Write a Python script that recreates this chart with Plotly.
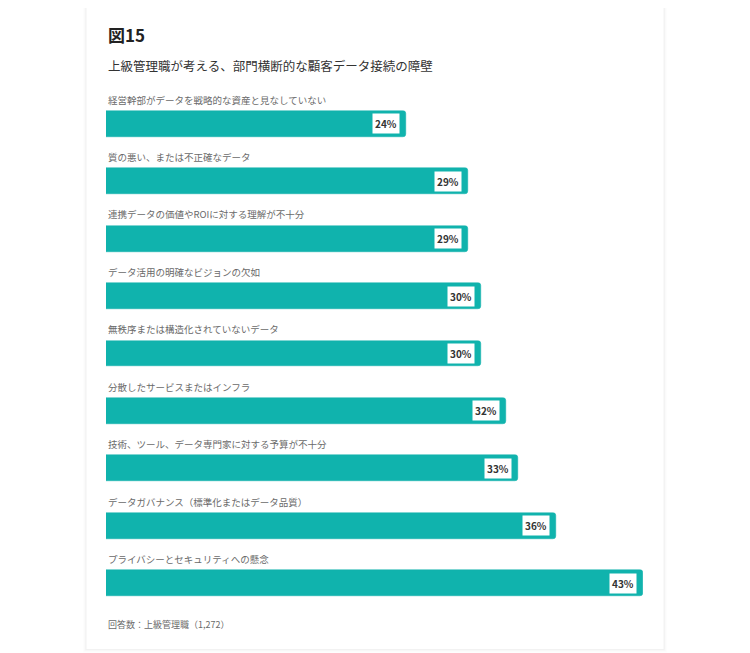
import plotly.graph_objects as go

# 図15 data
categories = [
    '経営幹部がデータを戦略的な資産と見なしていない',
    '質の悪い、または不正確なデータ',
    '連携データの価値やROIに対する理解が不十分',
    'データ活用の明確なビジョンの欠如',
    '無秩序または構造化されていないデータ',
    '分散したサービスまたはインフラ',
    '技術、ツール、データ専門家に対する予算が不十分',
    'データガバナンス（標準化またはデータ品質）',
    'プライバシーとセキュリティへの懸念',
]
values = [24, 29, 29, 30, 30, 32, 33, 36, 43]
value_labels = ['24%', '29%', '29%', '30%', '30%', '32%', '33%', '36%', '43%']

FONT = 'Noto Sans CJK JP'
BAR_COLOR = '#10b3ad'

# page body has an 8px margin, so the figure sits 8px in from the window edge
OFF = 8
W, H = 750, 653
L, T = 106 - OFF, 95 - OFF
pw, ph = 537, 517.5
R, B = W - L - pw, H - T - ph

pos = list(range(len(categories)))

fig = go.Figure()
fig.add_trace(go.Bar(
    x=values, y=pos, orientation='h',
    marker=dict(color=BAR_COLOR, line=dict(width=0.5, color=BAR_COLOR), cornerradius=3),
    width=0.45, hoverinfo='skip',
))

annotations = []
for i, (cat, v, lab) in enumerate(zip(categories, values, value_labels)):
    # category label above each bar
    annotations.append(dict(
        x=0, y=i - 0.42, xref='x', yref='y', text=cat, showarrow=False,
        xanchor='left', yanchor='middle',
        font=dict(family=FONT, size=9.5, color='#6a6a6a'),
    ))
    # value badge at the bar end
    annotations.append(dict(
        x=v, y=i, xref='x', yref='y', text='<b>' + lab + '</b>', showarrow=False,
        xanchor='right', yanchor='middle', xshift=-6,
        bgcolor='white', borderpad=2,
        font=dict(family=FONT, size=10, color='#333333'),
    ))

fig.update_layout(
    width=W, height=H,
    margin=dict(l=L, r=R, t=T, b=B),
    paper_bgcolor='white', plot_bgcolor='white',
    showlegend=False,
    bargap=0,
    xaxis=dict(range=[0, 43], visible=False, fixedrange=True),
    yaxis=dict(range=[8.5, -0.5], visible=False, fixedrange=True),
    annotations=annotations,
)


def px_x(p):
    return (p - OFF - L) / pw


def px_y(p):
    return 1 - (p - OFF - T) / ph


# card with a faint shadow
for k, op in [(3, 0.008), (2, 0.012), (1, 0.018)]:
    fig.add_shape(type='rect', xref='paper', yref='paper', layer='below',
                  x0=px_x(86 - k), x1=px_x(664 + k), y0=px_y(650 + k), y1=px_y(3 - k + 1),
                  line=dict(width=0), fillcolor='rgba(0,0,0,%s)' % op)
fig.add_shape(type='rect', xref='paper', yref='paper', layer='below',
              x0=px_x(86), x1=px_x(664), y0=px_y(650), y1=px_y(3),
              line=dict(width=1, color='#f2f2f2'), fillcolor='white')

fig.add_annotation(x=px_x(106), y=px_y(34), xref='paper', yref='paper',
                   text='<b>図15</b>', showarrow=False, xanchor='left', yanchor='middle',
                   font=dict(family=FONT, size=17, color='#222222'))
fig.add_annotation(x=px_x(106), y=px_y(65), xref='paper', yref='paper',
                   text='上級管理職が考える、部門横断的な顧客データ接続の障壁', showarrow=False,
                   xanchor='left', yanchor='middle',
                   font=dict(family=FONT, size=12.5, color='#333333'))
fig.add_annotation(x=px_x(106), y=px_y(625), xref='paper', yref='paper',
                   text='回答数：上級管理職（1,272）', showarrow=False,
                   xanchor='left', yanchor='middle',
                   font=dict(family=FONT, size=9, color='#6a6a6a'))

fig.write_html('out.html')
